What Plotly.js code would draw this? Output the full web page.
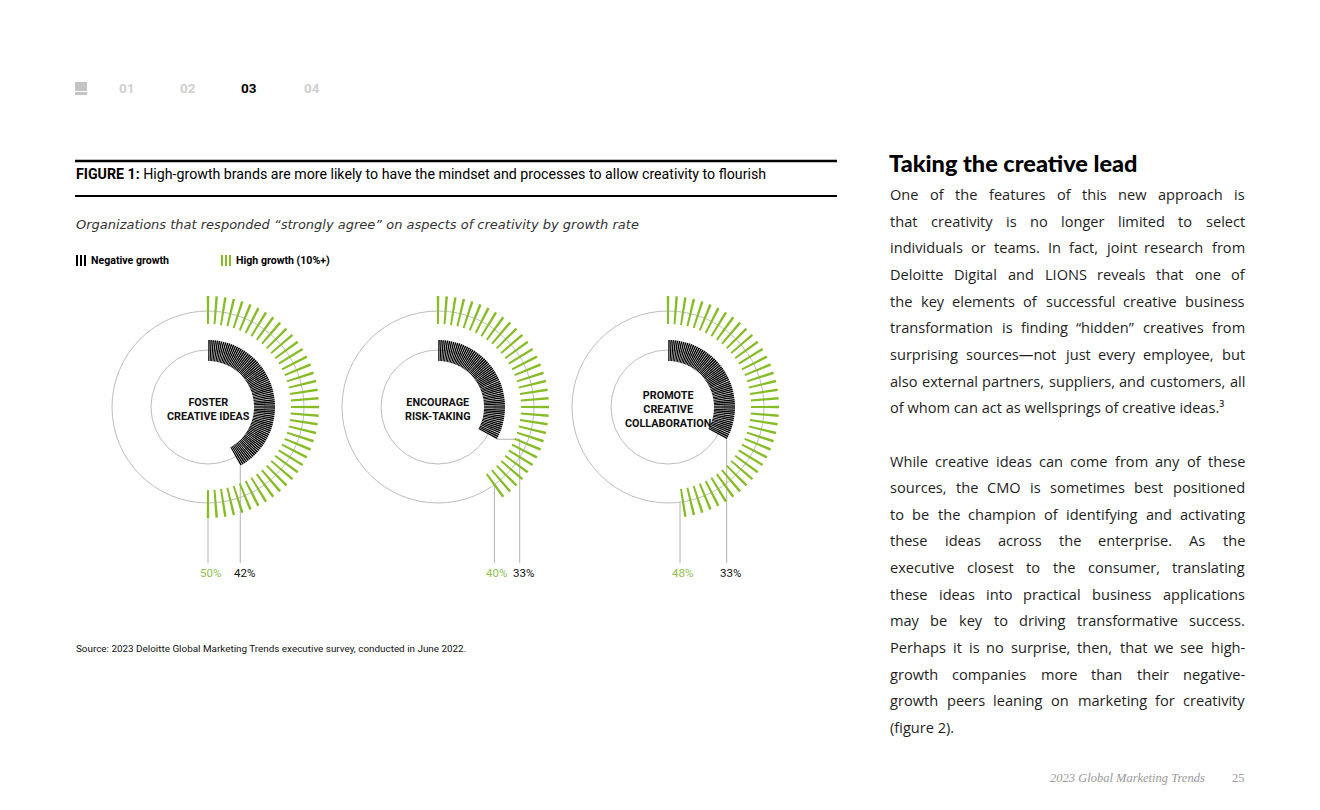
<!DOCTYPE html>
<html><head><meta charset="utf-8">
<script src="https://cdn.plot.ly/plotly-3.0.1.min.js"></script>
<style>html,body{margin:0;padding:0;background:#fff;}#chart{width:1320px;height:810px;}</style>
</head><body><div id="chart"></div>
<script>
// ---------------- data ----------------
const categories = ["FOSTER<br>CREATIVE IDEAS", "ENCOURAGE<br>RISK-TAKING", "PROMOTE<br>CREATIVE<br>COLLABORATION"];
const negativeGrowth = [42, 33, 33];
const highGrowth = [50, 40, 48];
const seriesNames = ["Negative growth", "High growth (10%+)"];
const navLabels = ["01", "02", "03", "04"];
const activeNav = "03";
const figureLabel = "FIGURE 1:";
const figureTitle = "High-growth brands are more likely to have the mindset and processes to allow creativity to flourish";
const subtitle = "Organizations that responded “strongly agree” on aspects of creativity by growth rate";
const sourceNote = "Source: 2023 Deloitte Global Marketing Trends executive survey, conducted in June 2022.";
const heading = "Taking the creative lead";
const paragraph1 = [
  "One of the features of this new approach is",
  "that creativity is no longer limited to select",
  "individuals or teams. In fact, joint research from",
  "Deloitte Digital and LIONS reveals that one of",
  "the key elements of successful creative business",
  "transformation is finding “hidden” creatives from",
  "surprising sources—not just every employee, but",
  "also external partners, suppliers, and customers, all",
  "of whom can act as wellsprings of creative ideas.³"
];
const paragraph2 = [
  "While creative ideas can come from any of these",
  "sources, the CMO is sometimes best positioned",
  "to be the champion of identifying and activating",
  "these ideas across the enterprise. As the",
  "executive closest to the consumer, translating",
  "these ideas into practical business applications",
  "may be key to driving transformative success.",
  "Perhaps it is no surprise, then, that we see high-",
  "growth companies more than their negative-",
  "growth peers leaning on marketing for creativity",
  "(figure 2)."
];
const footerText = "2023 Global Marketing Trends";
const pageNumber = "25";

// ---------------- style / layout ----------------
const W = 1320, H = 810;
const GREEN = "#86bc25", BLACK = "#000000", GRID = "#bdbdbd", LEAD = "#b3b3b3";
const centersX = [208, 438, 668], centerY = 407, R = 115;
const NEG_BASE = 46, NEG_LEN = 21, NEG_STEP = 0.5;    // one tick per half percent
const POS_BASE = 83, POS_LEN = 28, POS_STEP = 1.25;   // one tick per 1.25 percent
const INNER_R = 57, OUTER_R = 96;
const leaderBottom = 563, labelY = 573;
const jogX = [0, 23, 0];
const CONDENSED = "Roboto";

const traces = [];
const annotations = [];
const shapes = [];
const layout = {
  width: W, height: H, margin: {l: 0, r: 0, t: 0, b: 0},
  paper_bgcolor: "#fff", plot_bgcolor: "rgba(0,0,0,0)", showlegend: false,
  xaxis: {range: [0, W], visible: false, fixedrange: true},
  yaxis: {range: [H, 0], visible: false, fixedrange: true},
  annotations, shapes
};

const rad = d => d * Math.PI / 180;

categories.forEach((cat, i) => {
  const pid = i === 0 ? "polar" : "polar" + (i + 1);
  const cx = centersX[i];
  layout[pid] = {
    domain: {x: [(cx - R) / W, (cx + R) / W], y: [(H - centerY - R) / H, (H - centerY + R) / H]},
    bgcolor: "rgba(0,0,0,0)", barmode: "overlay", hole: 0,
    radialaxis: {range: [0, R], showticklabels: false, ticks: "", showline: false,
                 tickvals: [INNER_R, OUTER_R], showgrid: true, gridcolor: GRID, gridwidth: 1},
    angularaxis: {rotation: 90, direction: "clockwise", showgrid: false, showline: false,
                  showticklabels: false, ticks: ""}
  };
  // negative growth ticks
  const nN = Math.round(negativeGrowth[i] / NEG_STEP);
  const thN = [], rN = [];
  for (let k = 0; k < nN; k++) { thN.push((k + 0.5) * NEG_STEP * 3.6); rN.push(NEG_LEN); }
  traces.push({type: "barpolar", subplot: pid, theta: thN, r: rN, base: NEG_BASE,
    width: NEG_STEP * 3.6 * 0.72, marker: {color: BLACK, line: {width: 0}}, name: seriesNames[0], hoverinfo: "skip"});
  // high growth ticks
  const nP = Math.floor(highGrowth[i] / POS_STEP);
  const thP = [], rP = [];
  for (let k = 0; k <= nP; k++) { thP.push(k * POS_STEP * 3.6); rP.push(POS_LEN); }
  traces.push({type: "barpolar", subplot: pid, theta: thP, r: rP, base: POS_BASE,
    width: 1.3, marker: {color: GREEN, line: {width: 0}}, name: seriesNames[1], hoverinfo: "skip"});

  // leader lines (from arc ends)
  const aN = rad(negativeGrowth[i] * 3.6), aP = rad(highGrowth[i] * 3.6);
  const rEndN = NEG_BASE + NEG_LEN;
  const nx = cx + rEndN * Math.sin(aN), ny = centerY - rEndN * Math.cos(aN);
  const px = cx + OUTER_R * Math.sin(aP), py = centerY - OUTER_R * Math.cos(aP);
  const nLx = nx + jogX[i];
  traces.push({type: "scatter", mode: "lines", xaxis: "x", yaxis: "y",
    x: [px, px, null, nx, nLx, nLx], y: [py, leaderBottom, null, ny, ny, leaderBottom],
    line: {color: LEAD, width: 1}, hoverinfo: "skip"});
  annotations.push({x: px, y: labelY, xref: "x", yref: "y", text: highGrowth[i] + "%", showarrow: false,
    xanchor: "center", yanchor: "middle", xshift: 2, font: {family: CONDENSED, size: 11.5, color: "#8fc04f"}});
  annotations.push({x: nLx, y: labelY, xref: "x", yref: "y", text: negativeGrowth[i] + "%", showarrow: false,
    xanchor: "center", yanchor: "middle", xshift: 4, font: {family: CONDENSED, size: 11.5, color: "#111"}});
  // center label
  annotations.push({x: cx, y: centerY + 2, xref: "x", yref: "y", text: "<b>" + cat + "</b>", showarrow: false,
    xanchor: "center", yanchor: "middle", align: "center",
    font: {family: "Roboto", size: 10.8, color: "#111", weight: i === 1 ? 900 : 700}});
});

// ---------------- page furniture ----------------
shapes.push({type: "rect", xref: "x", yref: "y", x0: 75, x1: 87, y0: 82, y1: 95, fillcolor: "#c4c4c4", line: {width: 0}});
shapes.push({type: "line", xref: "x", yref: "y", x0: 75, x1: 87, y0: 91.5, y1: 91.5, line: {color: "#fff", width: 1}});
const navX = [127, 188, 249, 312];
navLabels.forEach((t, k) => annotations.push({x: navX[k], y: 88, xref: "x", yref: "y", text: "<b>" + t + "</b>",
  showarrow: false, xanchor: "center", yanchor: "middle",
  font: {family: "Roboto", size: 13.5, color: t === activeNav ? "#000" : "#cfcfcf"}}));

shapes.push({type: "line", xref: "x", yref: "y", x0: 75, x1: 837, y0: 161, y1: 161, line: {color: "#000", width: 2.5}});
shapes.push({type: "line", xref: "x", yref: "y", x0: 75, x1: 837, y0: 196, y1: 196, line: {color: "#000", width: 2}});
annotations.push({x: 76, y: 174, xref: "x", yref: "y", text: "<b>" + figureLabel + "</b> " + figureTitle,
  showarrow: false, xanchor: "left", yanchor: "middle", borderpad: 0, borderwidth: 0,
  font: {family: CONDENSED, size: 14.2, color: "#000"}});
annotations.push({x: 76, y: 224, xref: "x", yref: "y", text: "<i>" + subtitle + "</i>",
  showarrow: false, xanchor: "left", yanchor: "middle", borderpad: 0, borderwidth: 0,
  font: {family: "DejaVu Sans", size: 13, color: "#333"}});

const legendX = [76, 221], legendColors = [BLACK, GREEN];
seriesNames.forEach((nm, k) => {
  for (let b = 0; b < 3; b++) shapes.push({type: "rect", xref: "x", yref: "y",
    x0: legendX[k] + b * 4, x1: legendX[k] + b * 4 + 2, y0: 255, y1: 266, fillcolor: legendColors[k], line: {width: 0}});
  annotations.push({x: legendX[k] + 15, y: 260.5, xref: "x", yref: "y", text: "<b>" + nm + "</b>", showarrow: false,
    xanchor: "left", yanchor: "middle", borderpad: 0, borderwidth: 0,
    font: {family: CONDENSED, size: 10.6, color: "#000"}});
});

annotations.push({x: 76, y: 648, xref: "x", yref: "y", text: sourceNote, showarrow: false,
  xanchor: "left", yanchor: "middle", borderpad: 0, borderwidth: 0,
  font: {family: CONDENSED, size: 9.9, color: "#111"}});

annotations.push({x: 889, y: 163, xref: "x", yref: "y", text: heading, showarrow: false,
  xanchor: "left", yanchor: "middle", borderpad: 0, borderwidth: 0,
  font: {family: "Lato", size: 23.5, color: "#000", weight: 900}});

const BODY_FONT = "Open Sans", BODY_SIZE = 14.6, TEXT_L = 890, TEXT_R = 1245, LINE0 = 194, LINE_H = 26.65;
const ctx = document.createElement("canvas").getContext("2d");
ctx.font = BODY_SIZE + "px '" + BODY_FONT + "'";
function addLine(line, y, justify) {
  const font = {family: BODY_FONT, size: BODY_SIZE, color: "#1e1e1e"};
  if (!justify) {
    annotations.push({x: TEXT_L, y, xref: "x", yref: "y", text: line, showarrow: false, xanchor: "left",
      yanchor: "middle", borderpad: 0, borderwidth: 0, font});
    return;
  }
  const words = line.split(" ");
  const ws = words.map(w => ctx.measureText(w).width);
  const total = ws.reduce((a, b) => a + b, 0);
  const gap = Math.max(2.5, (TEXT_R - TEXT_L - total) / (words.length - 1));
  let x = TEXT_L;
  words.forEach((w, k) => {
    annotations.push({x, y, xref: "x", yref: "y", text: w, showarrow: false, xanchor: "left",
      yanchor: "middle", borderpad: 0, borderwidth: 0, font});
    x += ws[k] + gap;
  });
}
paragraph1.forEach((l, k) => addLine(l, LINE0 + k * LINE_H, k < paragraph1.length - 1));
paragraph2.forEach((l, k) => addLine(l, LINE0 + (k + paragraph1.length + 1) * LINE_H, k < paragraph2.length - 1));

annotations.push({x: 1205, y: 778, xref: "x", yref: "y", text: "<i>" + footerText + "</i>", showarrow: false,
  xanchor: "right", yanchor: "middle", borderpad: 0, borderwidth: 0,
  font: {family: "Liberation Serif", size: 12.5, color: "#9a9a9a"}});
annotations.push({x: 1245, y: 778, xref: "x", yref: "y", text: pageNumber, showarrow: false,
  xanchor: "right", yanchor: "middle", borderpad: 0, borderwidth: 0,
  font: {family: "Liberation Serif", size: 12.5, color: "#9a9a9a"}});

Plotly.newPlot("chart", traces, layout, {displayModeBar: false, staticPlot: true});
</script></body></html>
